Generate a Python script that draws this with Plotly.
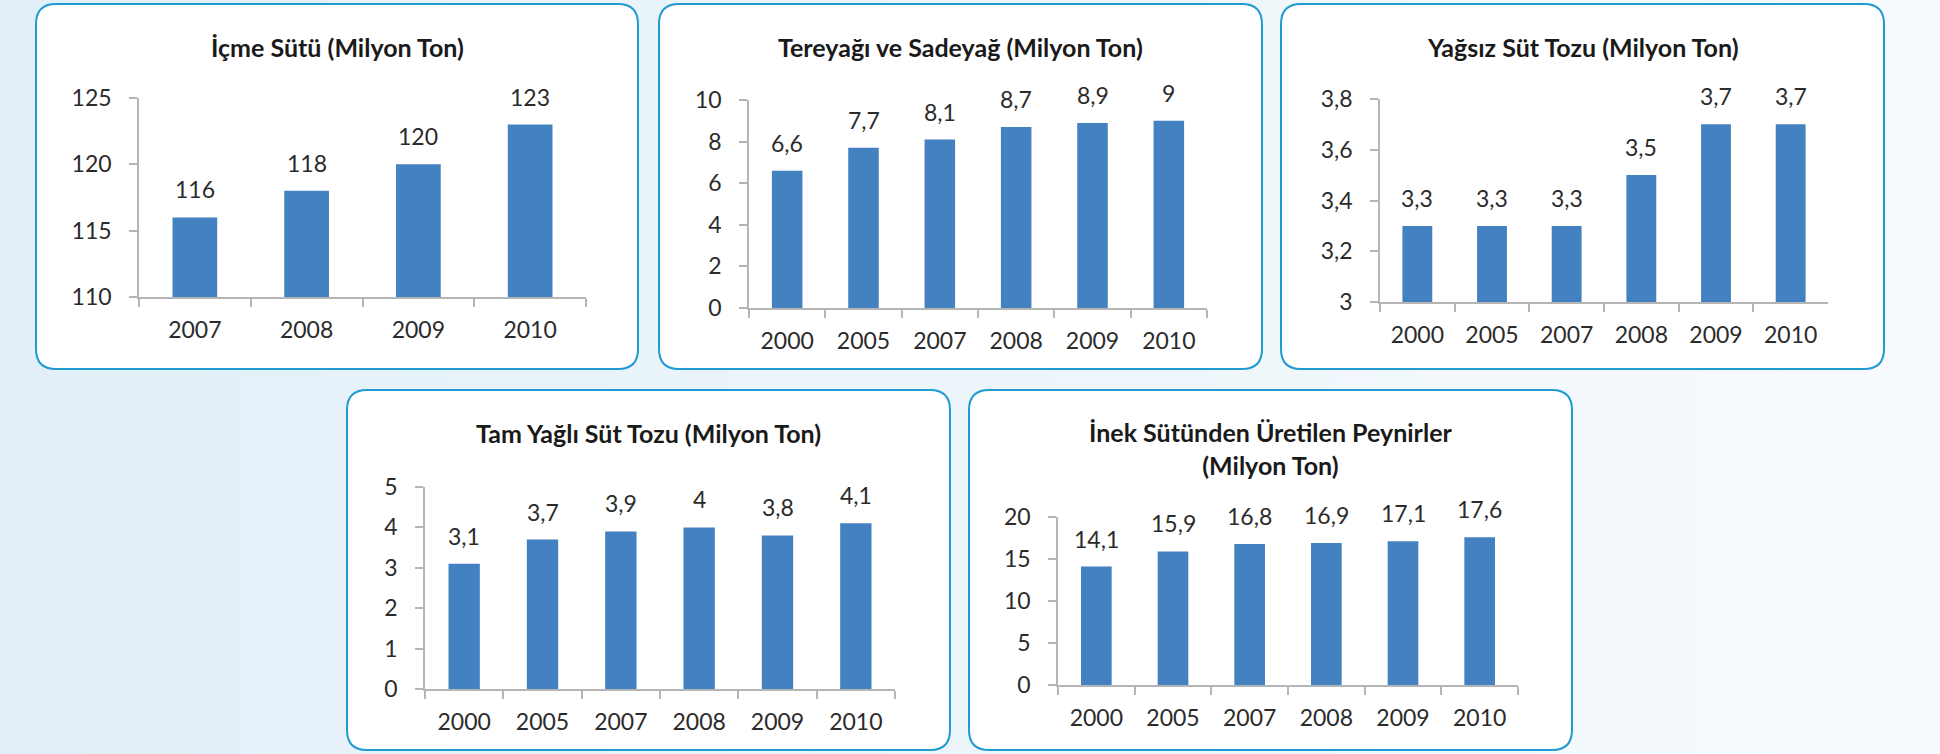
import plotly.graph_objects as go

W, H = 1940, 754

# ---- data ----
icme_years = ["2007", "2008", "2009", "2010"]
icme_values = [116, 118, 120, 123]

years6 = ["2000", "2005", "2007", "2008", "2009", "2010"]
tereyagi_values = [6.6, 7.7, 8.1, 8.7, 8.9, 9]
yagsiz_values = [3.3, 3.3, 3.3, 3.5, 3.7, 3.7]
tamyagli_values = [3.1, 3.7, 3.9, 4, 3.8, 4.1]
peynir_values = [14.1, 15.9, 16.8, 16.9, 17.1, 17.6]

titles = [
    "İçme Sütü (Milyon Ton)",
    "Tereyağı ve Sadeyağ (Milyon Ton)",
    "Yağsız Süt Tozu (Milyon Ton)",
    "Tam Yağlı Süt Tozu (Milyon Ton)",
    "İnek Sütünden Üretilen Peynirler<br>(Milyon Ton)",
]

# ---- layout (pixels) ----
panels = [
    dict(cats=icme_years, vals=icme_values, yr=[110, 125], dt=5,
         plot=(139, 586, 98, 297), box=(36, 638, 4, 369), ty=47),
    dict(cats=years6, vals=tereyagi_values, yr=[0, 10], dt=2,
         plot=(749, 1207, 100, 308), box=(659, 1262, 4, 369), ty=47),
    dict(cats=years6, vals=yagsiz_values, yr=[3, 3.8], dt=0.2,
         plot=(1380, 1828, 99, 302), box=(1281, 1884, 4, 369), ty=47),
    dict(cats=years6, vals=tamyagli_values, yr=[0, 5], dt=1,
         plot=(425, 895, 487, 689), box=(347, 950, 390, 750), ty=433),
    dict(cats=years6, vals=peynir_values, yr=[0, 20], dt=5,
         plot=(1058, 1518, 517, 685), box=(969, 1572, 390, 750), ty=449),
]

FONT = "Lato"
TXT = "#2b2b2b"
AX = "#b5b5b5"
BAR = "#4481c1"
FS = 23

fig = go.Figure()
shapes = []
annotations = []

# background gradient strips
n = 48
c0 = (226, 239, 248)
c1 = (247, 251, 253)
for i in range(n):
    t = i / (n - 1)
    c = tuple(round(c0[k] + (c1[k] - c0[k]) * t) for k in range(3))
    shapes.append(dict(type="rect", xref="paper", yref="paper",
                       x0=i / n, x1=(i + 1) / n + 0.001, y0=0, y1=1,
                       line=dict(width=0), fillcolor="rgb(%d,%d,%d)" % c,
                       layer="below"))


def px(x):
    return x / W


def py(y):
    return 1 - y / H


def rounded(x0, x1, y0, y1, r):
    rx, ry = r / W, r / H
    X0, X1, Y0, Y1 = px(x0), px(x1), py(y1), py(y0)  # Y0 bottom, Y1 top
    return (f"M {X0+rx},{Y1} L {X1-rx},{Y1} Q {X1},{Y1} {X1},{Y1-ry} "
            f"L {X1},{Y0+ry} Q {X1},{Y0} {X1-rx},{Y0} "
            f"L {X0+rx},{Y0} Q {X0},{Y0} {X0},{Y0+ry} "
            f"L {X0},{Y1-ry} Q {X0},{Y1} {X0+rx},{Y1} Z")


layout_axes = {}
for i, p in enumerate(panels):
    k = "" if i == 0 else str(i + 1)
    bx0, bx1, by0, by1 = p["box"]
    shapes.append(dict(type="path", xref="paper", yref="paper",
                       path=rounded(bx0, bx1, by0, by1, 20),
                       fillcolor="white", line=dict(color="#1f9bd1", width=2),
                       layer="below"))
    annotations.append(dict(xref="paper", yref="paper",
                            x=px((bx0 + bx1) / 2), y=py(p["ty"]),
                            text="<b>" + titles[i] + "</b>", showarrow=False,
                            xanchor="center", yanchor="middle",
                            font=dict(family=FONT, size=25, color="#1a1a1a")))

    fig.add_trace(go.Bar(x=p["cats"], y=p["vals"], marker=dict(color=BAR, line=dict(width=0)),
                         xaxis="x" + k, yaxis="y" + k, hoverinfo="x+y",
                         showlegend=False))
    for j, v in enumerate(p["vals"]):
        annotations.append(dict(xref="x" + k, yref="y" + k, x=j, y=v,
                                text=("%g" % v).replace(".", ","),
                                showarrow=False, yanchor="bottom", yshift=12,
                                font=dict(family=FONT, size=FS, color=TXT)))

    x0, x1, y0, y1 = p["plot"]
    ncat = len(p["cats"])
    layout_axes["xaxis" + k] = dict(
        domain=[px(x0), px(x1)], anchor="y" + k, type="category",
        range=[-0.5, ncat - 0.5], autorange=False, automargin=False,
        showline=True, linecolor=AX, linewidth=1.5,
        ticks="outside", tickson="boundaries", ticklen=8, tickcolor=AX, tickwidth=1.5,
        showgrid=False, zeroline=False, fixedrange=True, tickangle=0,
        tickfont=dict(family=FONT, size=FS, color=TXT), ticklabelstandoff=12)
    layout_axes["yaxis" + k] = dict(
        domain=[py(y1), py(y0)], anchor="x" + k, range=p["yr"], autorange=False,
        automargin=False, dtick=p["dt"], tick0=p["yr"][0],
        showline=True, linecolor=AX, linewidth=1.5,
        ticks="outside", ticklen=8, tickcolor=AX, tickwidth=1.5,
        showgrid=False, zeroline=False, fixedrange=True,
        tickfont=dict(family=FONT, size=FS, color=TXT), ticklabelstandoff=13)

fig.update_layout(
    width=W, height=H, autosize=False, margin=dict(l=0, r=0, t=0, b=0, pad=0, autoexpand=False),
    paper_bgcolor="rgb(236,245,250)", plot_bgcolor="rgba(0,0,0,0)",
    separators=", ", bargap=0.6,
    shapes=shapes, annotations=annotations, **layout_axes)

post = (
    "document.documentElement.style.margin='0';"
    "document.documentElement.style.overflow='hidden';"
    "document.body.style.margin='0';"
    "document.body.style.overflow='hidden';"
    "var g=document.getElementsByClassName('plotly-graph-div')[0];"
    "g.style.position='fixed';g.style.left='0px';g.style.top='0px';"
)
fig.write_html("out.html", config={"responsive": False, "displayModeBar": False},
               post_script=post)
